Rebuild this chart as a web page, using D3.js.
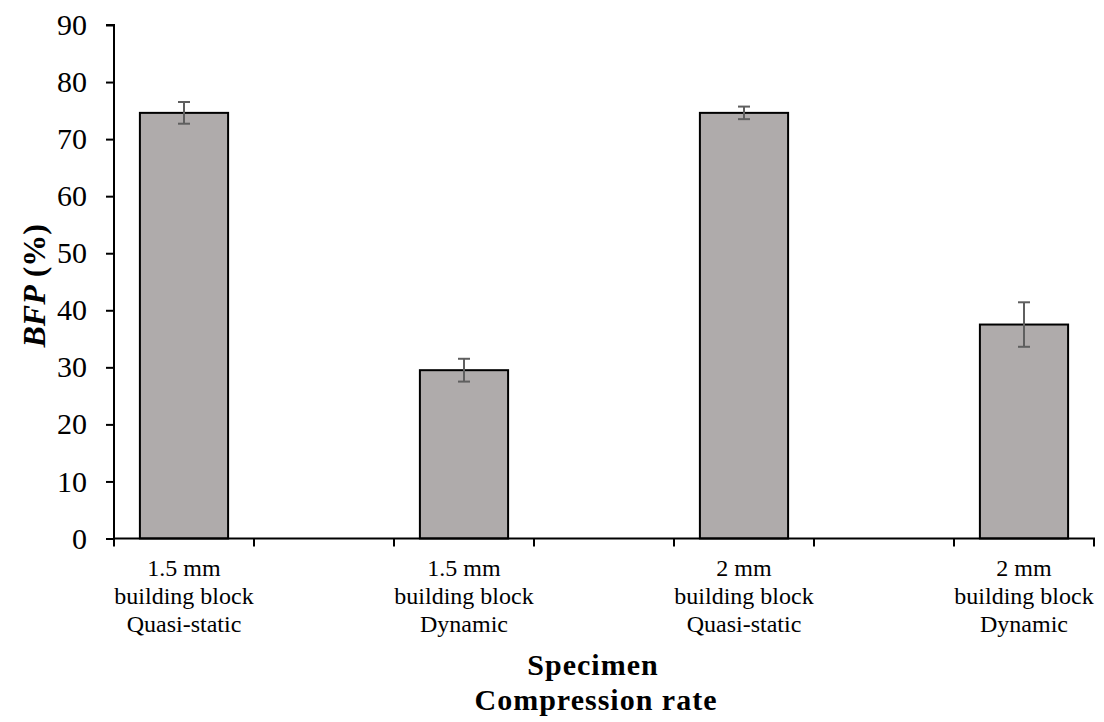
<!doctype html>
<html lang="en">
  <head>
    <meta charset="utf-8" />
    <title>BFP by specimen</title>
    <script src="https://cdn.jsdelivr.net/npm/d3@7"></script>
    <style>
      body { margin: 0; background: #fff; }
      text { font-family: "Liberation Serif", "Times New Roman", serif; fill: #000; }
    </style>
  </head>
  <body>
    <svg id="main" width="1104" height="722"></svg>
    <script>
      // chart values
      const specimens = ['1.5 mm', '1.5 mm', '2 mm', '2 mm'];
      const rates = ['Quasi-static', 'Dynamic', 'Quasi-static', 'Dynamic'];
      const bfp = [74.6, 29.5, 74.6, 37.5];
      const bfpErr = [1.9, 2.0, 1.1, 3.9];
      const yTicks = [0, 10, 20, 30, 40, 50, 60, 70, 80, 90];
      // the category axis has an empty slot between each pair of bars
      const slots = d3.range(7);
      const barSlot = [0, 2, 4, 6];

      const svg = d3.select('#main');
      const plotL = 114, plotR = 1094, plotT = 25, plotB = 538.5;

      const x = d3.scaleBand().domain(slots).range([plotL, plotR]);
      const y = d3.scaleLinear().domain([0, 90]).range([plotB, plotT]);
      const barW = x.bandwidth() * 0.63;
      const cx = i => x(barSlot[i]) + x.bandwidth() / 2;

      // bars
      svg.append('g').selectAll('rect')
        .data(bfp)
        .join('rect')
        .attr('x', (d, i) => cx(i) - barW / 2)
        .attr('y', d => y(d))
        .attr('width', barW)
        .attr('height', d => y(0) - y(d))
        .style('fill', '#afabab')
        .style('stroke', '#000')
        .style('stroke-width', 2);

      // error bars
      const err = svg.append('g').style('stroke', '#5f5f5f').style('stroke-width', 2);
      bfp.forEach((v, i) => {
        const hi = y(v + bfpErr[i]), lo = y(v - bfpErr[i]);
        err.append('line').attr('x1', cx(i)).attr('x2', cx(i)).attr('y1', hi).attr('y2', lo);
        err.append('line').attr('x1', cx(i) - 6).attr('x2', cx(i) + 6).attr('y1', hi).attr('y2', hi);
        err.append('line').attr('x1', cx(i) - 6).attr('x2', cx(i) + 6).attr('y1', lo).attr('y2', lo);
      });

      // y axis
      const yAxis = svg.append('g')
        .attr('transform', `translate(${plotL},0)`)
        .call(d3.axisLeft(y).tickValues(yTicks).tickSize(8).tickPadding(19));
      yAxis.select('.domain').attr('stroke-width', 2).attr('d', `M-8,${plotT}H0V${plotB}`);
      yAxis.selectAll('.tick line').attr('stroke-width', 2);
      yAxis.selectAll('.tick text').style('font-size', '30px').style('font-family', '"Liberation Serif", serif');

      // x axis: ticks at slot boundaries
      const bounds = slots.map(s => x(s)).concat([plotR]);
      svg.append('line')
        .attr('x1', plotL - 1).attr('x2', plotR + 1)
        .attr('y1', plotB).attr('y2', plotB)
        .style('stroke', '#000').style('stroke-width', 2);
      svg.append('g').selectAll('line')
        .data(bounds)
        .join('line')
        .attr('x1', d => d).attr('x2', d => d)
        .attr('y1', plotB).attr('y2', plotB + 8)
        .style('stroke', '#000').style('stroke-width', 2);

      const labels = svg.append('g').selectAll('text')
        .data(specimens)
        .join('text')
        .attr('x', (d, i) => cx(i))
        .attr('y', 576)
        .attr('text-anchor', 'middle')
        .style('font-size', '24px');
      labels.append('tspan').text(d => d);
      labels.append('tspan').attr('x', (d, i) => cx(i)).attr('dy', 28).text('building block');
      labels.append('tspan').attr('x', (d, i) => cx(i)).attr('dy', 28).text((d, i) => rates[i]);

      // axis titles
      svg.append('text')
        .attr('x', 593).attr('y', 675)
        .attr('text-anchor', 'middle')
        .style('font-size', '30px').style('font-weight', 'bold').style('letter-spacing', '1px')
        .text('Specimen');
      svg.append('text')
        .attr('x', 596).attr('y', 710)
        .attr('text-anchor', 'middle')
        .style('font-size', '30px').style('font-weight', 'bold').style('letter-spacing', '1px')
        .text('Compression rate');

      const yt = svg.append('text')
        .attr('transform', `translate(45,${(plotT + plotB) / 2 + 4}) rotate(-90)`)
        .attr('text-anchor', 'middle')
        .style('font-size', '32px').style('font-weight', 'bold');
      yt.append('tspan').style('font-style', 'italic').text('BFP');
      yt.append('tspan').text(' (%)');
    </script>
  </body>
</html>
